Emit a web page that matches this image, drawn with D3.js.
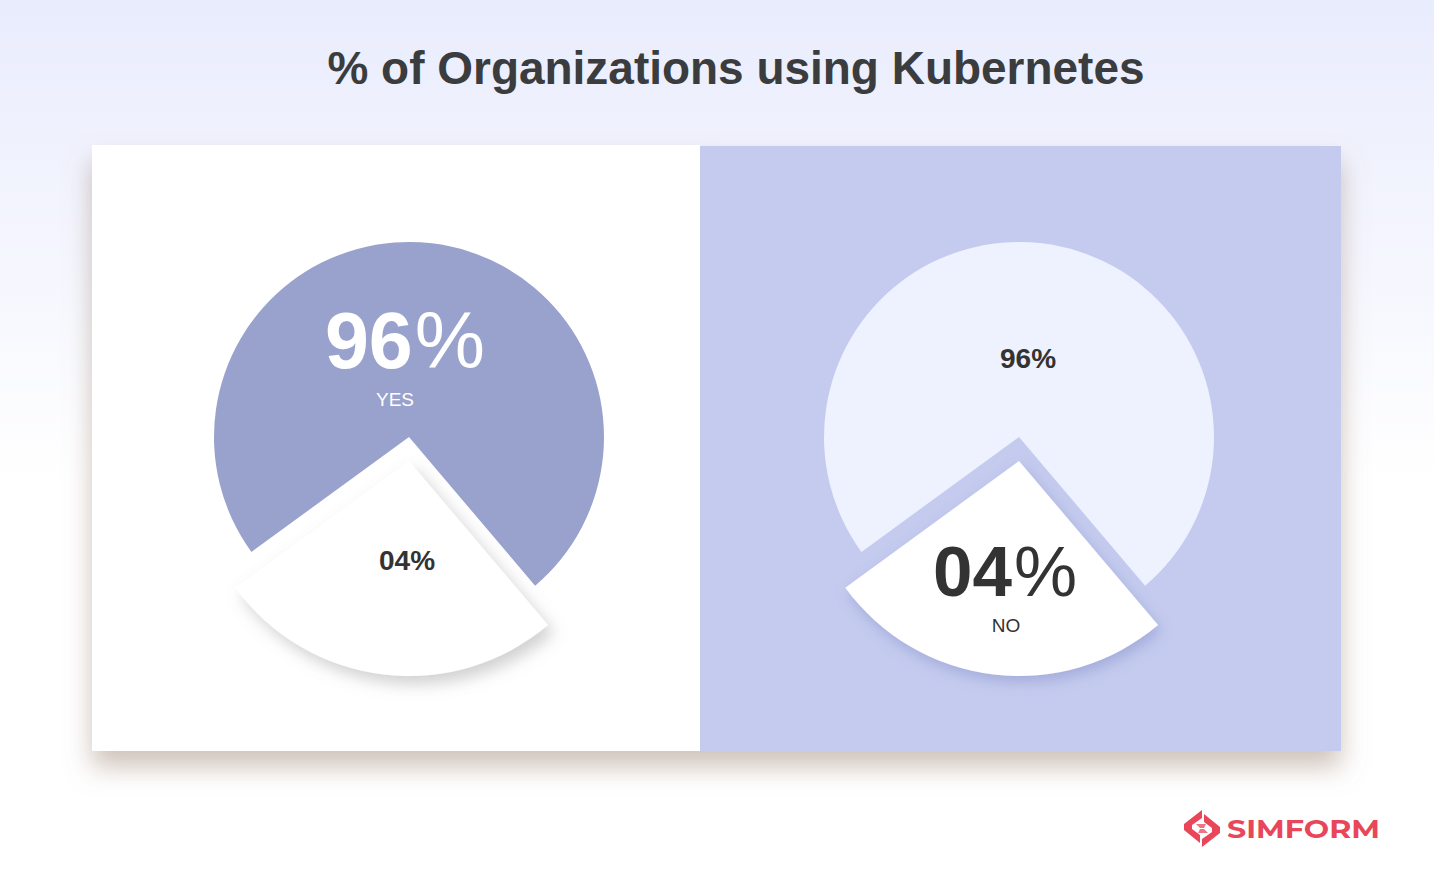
<!DOCTYPE html>
<html>
<head>
<meta charset="utf-8">
<script src="https://cdn.jsdelivr.net/npm/d3@7"></script>
<style>
  html, body { margin: 0; padding: 0; background: #fff; }
  svg { display: block; }
</style>
</head>
<body>
<svg id="chart" width="1434" height="872"></svg>
<script>
// ---- data ----
const titleText = "% of Organizations using Kubernetes";
const categories = ["YES", "NO"];
const values = [96, 4];
const valueLabels = ["96%", "04%"];
const brandText = "SIMFORM";

// ---- layout / style ----
const W = 1434, H = 872;
const svg = d3.select("#chart");
const defs = svg.append("defs");

const bg = defs.append("linearGradient").attr("id", "bg").attr("x1", 0).attr("y1", 0).attr("x2", 0).attr("y2", 1);
bg.append("stop").attr("offset", "0%").attr("stop-color", "#e9ecfd");
bg.append("stop").attr("offset", "55%").attr("stop-color", "#ffffff");
bg.append("stop").attr("offset", "100%").attr("stop-color", "#ffffff");

const fPanel = defs.append("filter").attr("id", "panelShadow").attr("x", "-10%").attr("y", "-10%").attr("width", "120%").attr("height", "125%");
fPanel.append("feDropShadow").attr("dx", 0).attr("dy", 16).attr("stdDeviation", 13)
  .attr("flood-color", "#a08678").attr("flood-opacity", 0.5);

const fWedgeL = defs.append("filter").attr("id", "wedgeShadowL").attr("x", "-30%").attr("y", "-30%").attr("width", "160%").attr("height", "160%");
fWedgeL.append("feDropShadow").attr("dx", 6).attr("dy", 8).attr("stdDeviation", 8)
  .attr("flood-color", "#7a7a7a").attr("flood-opacity", 0.35);

const fWedgeR = defs.append("filter").attr("id", "wedgeShadowR").attr("x", "-30%").attr("y", "-30%").attr("width", "160%").attr("height", "160%");
fWedgeR.append("feDropShadow").attr("dx", 3).attr("dy", 6).attr("stdDeviation", 7)
  .attr("flood-color", "#7d88c6").attr("flood-opacity", 0.45);

svg.append("rect").attr("width", W).attr("height", H).attr("fill", "url(#bg)");

// title
svg.append("text")
  .attr("x", 736).attr("y", 84)
  .attr("text-anchor", "middle")
  .attr("font-family", "Liberation Sans, Arial, sans-serif")
  .attr("font-weight", "bold")
  .attr("font-size", 46)
  .attr("fill", "#3b3c3e")
  .attr("textLength", 817).attr("lengthAdjust", "spacingAndGlyphs")
  .text(titleText);

// panels
const panelG = svg.append("g").attr("filter", "url(#panelShadow)");
panelG.append("rect").attr("x", 92).attr("y", 145).attr("width", 608).attr("height", 606).attr("fill", "#ffffff");
panelG.append("rect").attr("x", 700).attr("y", 146).attr("width", 641).attr("height", 605).attr("fill", "#c4cbee");

// pie geometry (stylised: the minor slice is drawn exploded and enlarged)
const deg = Math.PI / 180;
const minorStart = 139.7 * deg, minorEnd = 233.9 * deg;
const rMain = 195, rWedge = 215, explode = 24;

const pie = d3.pie().sort(null).value(d => d);
const arcs = pie(values); // keeps data binding; visual angles below are stylised
const arcMain = d3.arc().innerRadius(0).outerRadius(rMain)
  .startAngle(minorEnd).endAngle(minorStart + 2 * Math.PI);
const arcMinor = d3.arc().innerRadius(0).outerRadius(rWedge)
  .startAngle(minorStart).endAngle(minorEnd);

const panels = [
  { cx: 409, cy: 437, mainFill: "#98a2cc", wedgeFill: "#ffffff", filter: "url(#wedgeShadowL)", highlight: 0 },
  { cx: 1019, cy: 437, mainFill: "#eef1fe", wedgeFill: "#ffffff", filter: "url(#wedgeShadowR)", highlight: 1 }
];

panels.forEach(p => {
  const g = svg.append("g").attr("transform", `translate(${p.cx},${p.cy})`);
  g.append("path").datum(arcs[0]).attr("d", arcMain()).attr("fill", p.mainFill);
  g.append("path").datum(arcs[1]).attr("d", arcMinor())
    .attr("transform", `translate(0,${explode})`)
    .attr("fill", p.wedgeFill).attr("filter", p.filter);

  const ff = "Liberation Sans, Arial, sans-serif";
  if (p.highlight === 0) {
    const t = g.append("text").attr("x", -4).attr("y", -69).attr("text-anchor", "middle")
      .attr("font-family", ff).attr("font-size", 79).attr("fill", "#ffffff");
    t.append("tspan").attr("font-weight", "bold").text(valueLabels[0].replace("%", ""));
    t.append("tspan").attr("font-weight", "normal").attr("dx", 2).text("%");
    g.append("text").attr("x", -14).attr("y", -31).attr("text-anchor", "middle")
      .attr("font-family", ff).attr("font-size", 19).attr("fill", "#ffffff").text(categories[0]);
    g.append("text").attr("x", -2).attr("y", 133).attr("text-anchor", "middle")
      .attr("font-family", ff).attr("font-weight", "bold").attr("font-size", 28).attr("fill", "#333333")
      .text(valueLabels[1]);
  } else {
    g.append("text").attr("x", 9).attr("y", -69).attr("text-anchor", "middle")
      .attr("font-family", ff).attr("font-weight", "bold").attr("font-size", 28).attr("fill", "#333333")
      .text(valueLabels[0]);
    const t = g.append("text").attr("x", -14).attr("y", 159).attr("text-anchor", "middle")
      .attr("font-family", ff).attr("font-size", 71).attr("fill", "#333333");
    t.append("tspan").attr("font-weight", "bold").text(valueLabels[1].replace("%", ""));
    t.append("tspan").attr("font-weight", "normal").attr("dx", 2).text("%");
    g.append("text").attr("x", -13).attr("y", 195).attr("text-anchor", "middle")
      .attr("font-family", ff).attr("font-size", 19).attr("fill", "#333333").text(categories[1]);
  }
});

// brand logo
const logo = svg.append("g").attr("transform", "translate(1184,810)");
const red = "#e9465a";
logo.append("path").attr("fill", red)
  .attr("d", "M18,0 L0,14 L0,20 L16,33 L16,25 L8,19 L8,15 L18,8 Z");
logo.append("path").attr("fill", red)
  .attr("d", "M18,37 L36,23 L36,17 L20,4 L20,12 L28,18 L28,22 L18,29 Z");
logo.append("path").attr("fill", red).attr("opacity", 0.75)
  .attr("d", "M12,14 L22,14 L20,18 L16,18 Z M24,23 L14,23 L16,19 L20,19 Z");
svg.append("text")
  .attr("x", 1227).attr("y", 838)
  .attr("font-family", "Montserrat, 'Open Sans', Lato, sans-serif")
  .attr("font-weight", "bold").attr("font-size", 26)
  .attr("fill", red)
  .attr("textLength", 153).attr("lengthAdjust", "spacingAndGlyphs")
  .text(brandText);
</script>
</body>
</html>
